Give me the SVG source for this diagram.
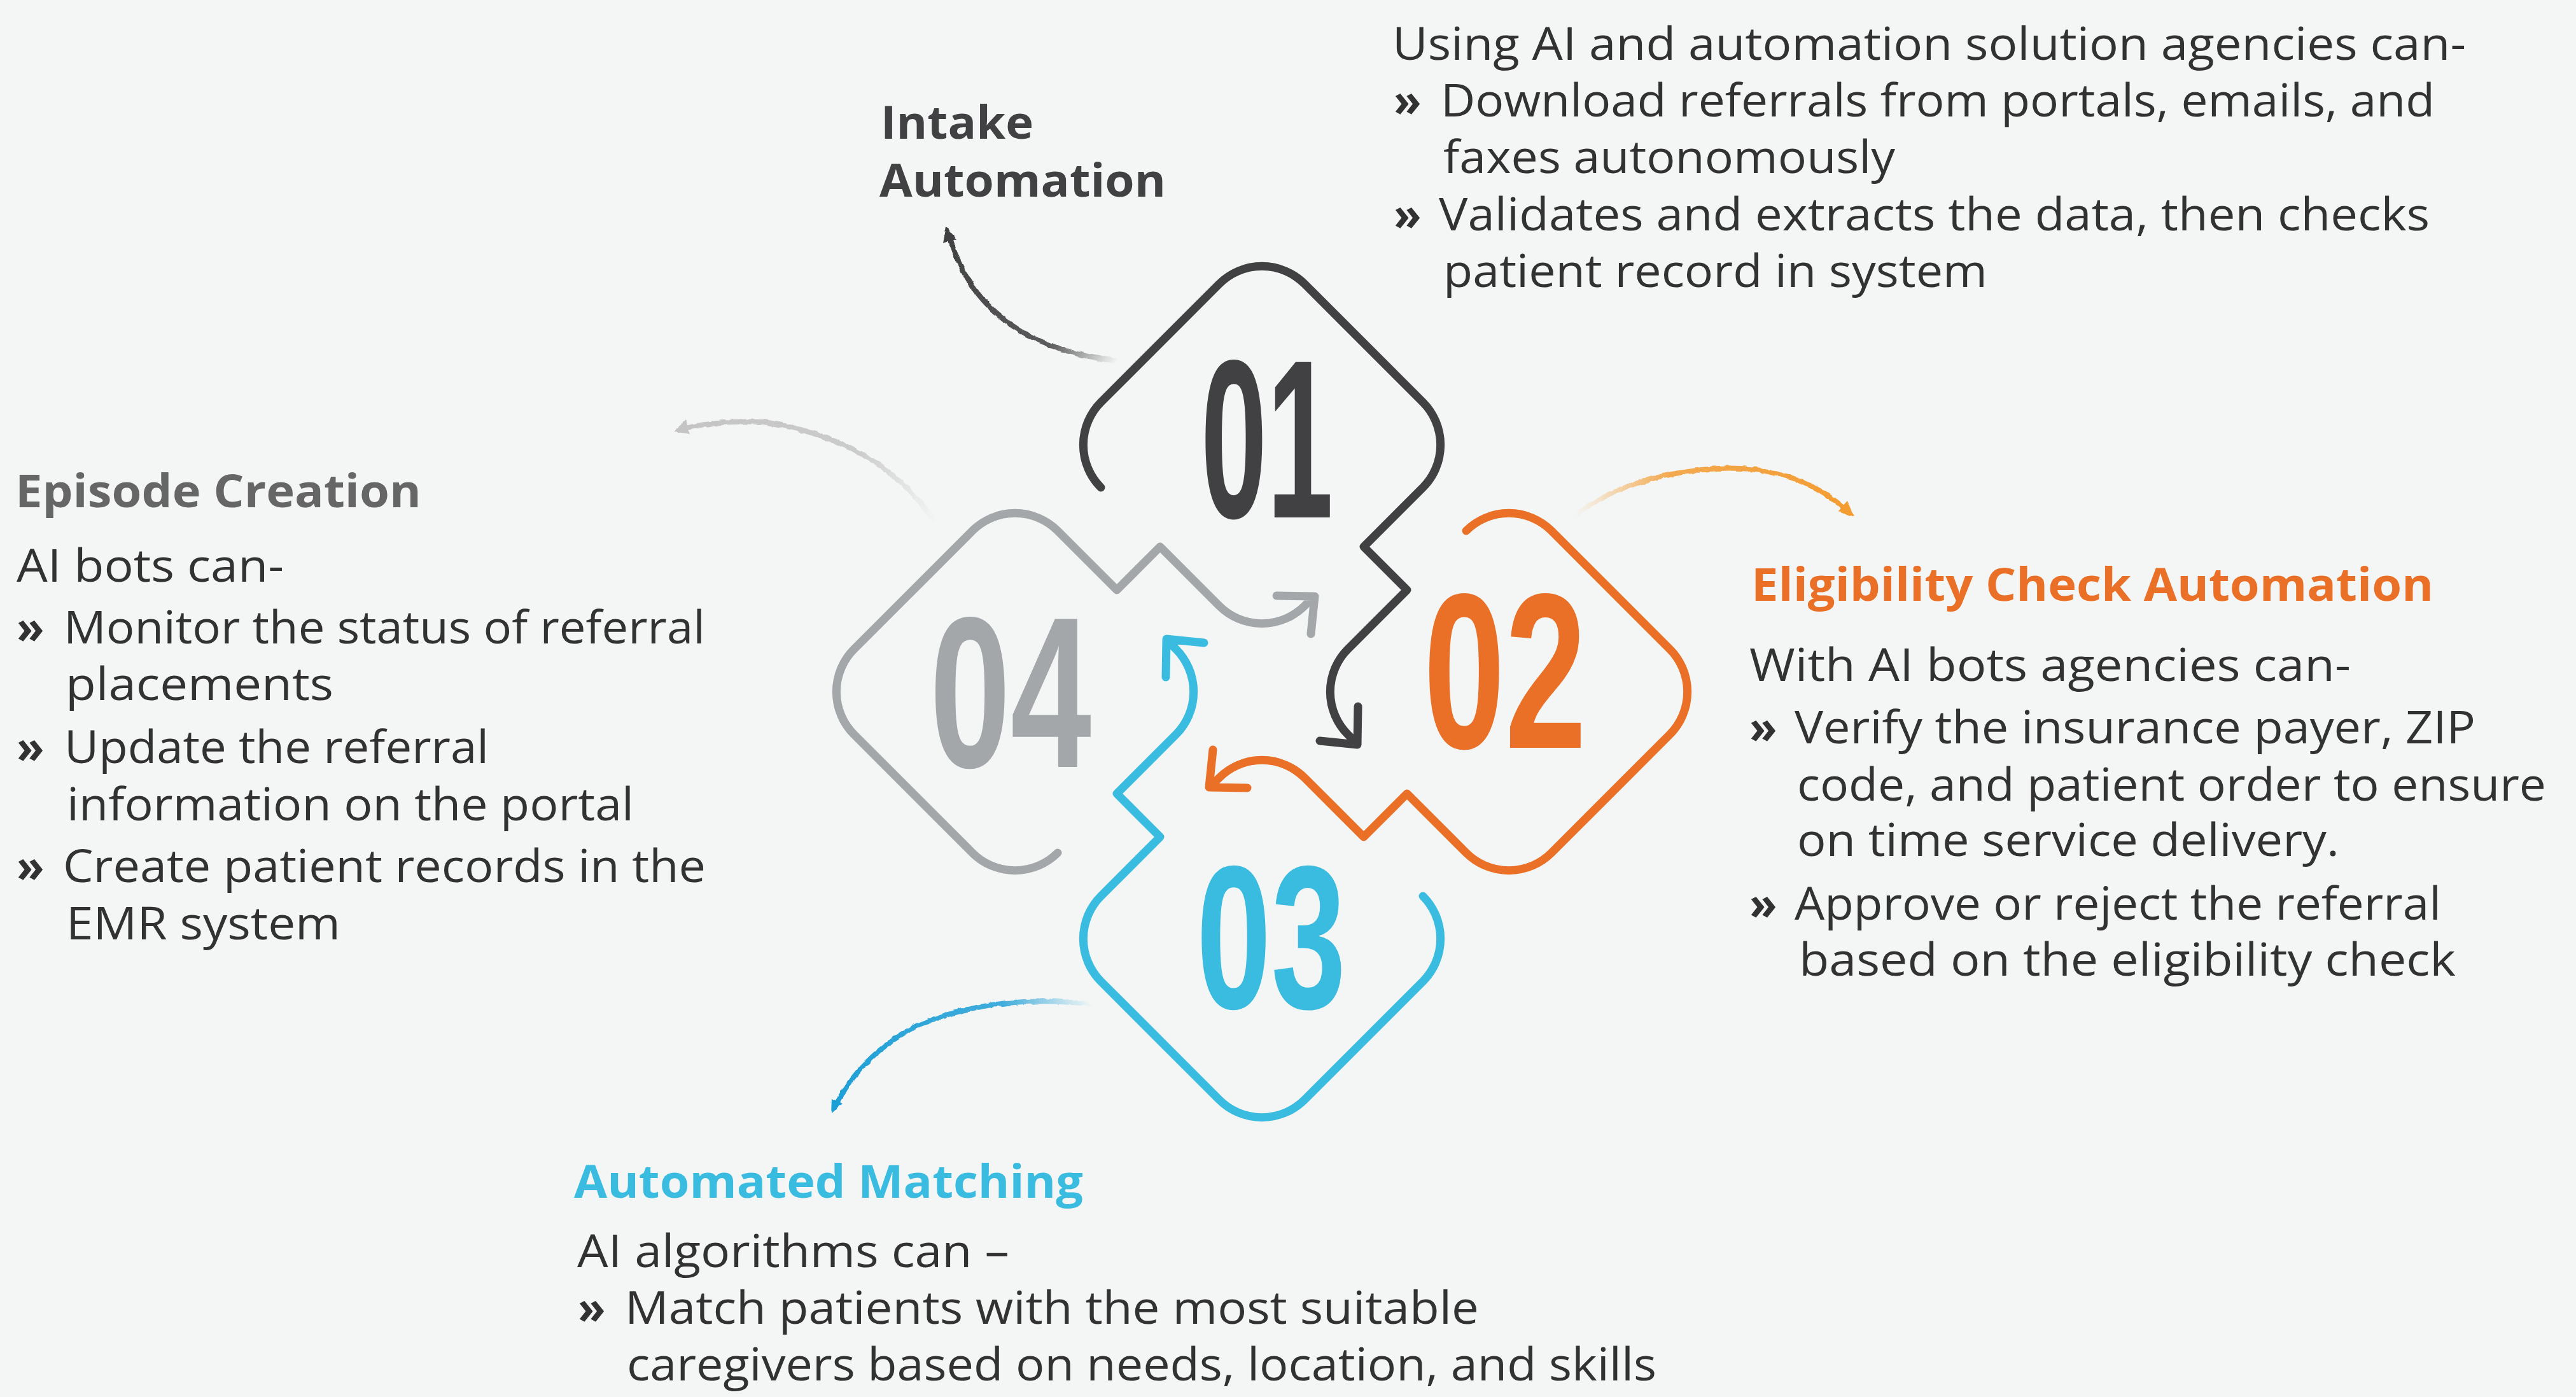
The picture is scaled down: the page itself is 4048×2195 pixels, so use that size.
<svg xmlns="http://www.w3.org/2000/svg" width="4048" height="2195" viewBox="0 0 4048 2195">
<defs>
<style>
.body{font-family:"Open Sans","Liberation Sans",sans-serif;font-size:71px;fill:#323232;}
.bul{font-family:"Open Sans","Liberation Sans",sans-serif;font-size:71px;font-weight:700;fill:#323232;}
.head{font-family:"Open Sans","Liberation Sans",sans-serif;font-size:72px;font-weight:700;}
.num{font-family:"Liberation Sans","DejaVu Sans",sans-serif;font-weight:700;}
.loop{fill:none;stroke-width:13;stroke-linecap:round;stroke-linejoin:round;}
.brush{fill:none;stroke-width:8;stroke-linecap:round;}
</style>
<path id="loop" d="M -253 -321 A 95 95 0 0 1 -253 -455 L -67 -641 A 95 95 0 0 1 67 -641 L 253 -455 A 95 95 0 0 1 253 -321 L 160 -228 L 228 -160 L 135 -67 A 95 95 0 0 0 135 67 L 150 82 M 151 23 L 150 83 L 91 77"/>
<linearGradient id="gDark" gradientUnits="userSpaceOnUse" x1="1755" y1="568" x2="1492" y2="372">
<stop offset="0" stop-color="#414042" stop-opacity="0"/><stop offset="0.3" stop-color="#414042" stop-opacity="0.85"/><stop offset="1" stop-color="#414042"/>
</linearGradient>
<linearGradient id="gGray" gradientUnits="userSpaceOnUse" x1="1470" y1="820" x2="1066" y2="676">
<stop offset="0" stop-color="#c4c4c4" stop-opacity="0"/><stop offset="0.35" stop-color="#c4c4c4" stop-opacity="0.85"/><stop offset="1" stop-color="#c4c4c4"/>
</linearGradient>
<linearGradient id="gOrange" gradientUnits="userSpaceOnUse" x1="2476" y1="809" x2="2900" y2="800">
<stop offset="0" stop-color="#F39C32" stop-opacity="0"/><stop offset="0.35" stop-color="#F39C32" stop-opacity="0.85"/><stop offset="1" stop-color="#F39C32"/>
</linearGradient>
<linearGradient id="gBlue" gradientUnits="userSpaceOnUse" x1="1716" y1="1578" x2="1312" y2="1740">
<stop offset="0" stop-color="#1E9FD6" stop-opacity="0"/><stop offset="0.3" stop-color="#1E9FD6" stop-opacity="0.85"/><stop offset="1" stop-color="#1E9FD6"/>
</linearGradient>
<filter id="rough" x="-10%" y="-10%" width="120%" height="120%">
<feTurbulence type="fractalNoise" baseFrequency="0.09" numOctaves="2" seed="3"/>
<feDisplacementMap in="SourceGraphic" scale="5" xChannelSelector="R" yChannelSelector="G"/>
</filter>
</defs>
<rect width="4048" height="2195" fill="#F4F6F5"/>

<g id="connectors">
<g id="brush-intake" filter="url(#rough)">
<path class="brush" stroke="url(#gDark)" d="M1752,567 Q1540,540 1492,372"/>
<polygon fill="#414042" points="1486,356 1481,382 1504,376"/>
</g>
<g id="brush-episode" filter="url(#rough)">
<path class="brush" stroke="url(#gGray)" stroke-width="7" d="M1467,817 Q1380,690 1200,663 Q1120,660 1066,676"/>
<polygon fill="#c4c4c4" points="1058,678 1084,682 1078,660"/>
</g>
<g id="brush-eligibility" filter="url(#rough)">
<path class="brush" stroke="url(#gOrange)" stroke-width="7" d="M2476,809 Q2560,745 2700,736 Q2820,730 2900,800"/>
<polygon fill="#F39C32" points="2914,812 2889,803 2903,788"/>
</g>
<g id="brush-matching" filter="url(#rough)">
<path class="brush" stroke="url(#gBlue)" stroke-width="7" d="M1716,1578 Q1560,1560 1440,1612 Q1350,1660 1312,1740"/>
<polygon fill="#1E9FD6" points="1306,1750 1324,1734 1307,1726"/>
</g>
</g>

<g id="node-01">
<use href="#loop" class="loop" stroke="#414042" transform="translate(1983 1087)"/>
<text class="num" x="1887" y="813" font-size="355" textLength="208" lengthAdjust="spacingAndGlyphs" fill="#414042">01</text>
</g>
<g id="node-02">
<use href="#loop" class="loop" stroke="#E97026" transform="translate(1983 1087) rotate(90)"/>
<text class="num" x="2237" y="1175" font-size="348" textLength="256" lengthAdjust="spacingAndGlyphs" fill="#E97026">02</text>
</g>
<g id="node-03">
<use href="#loop" class="loop" stroke="#3ABCE0" transform="translate(1983 1087) rotate(180)"/>
<text class="num" x="1880" y="1584" font-size="321" textLength="235" lengthAdjust="spacingAndGlyphs" fill="#3ABCE0">03</text>
</g>
<g id="node-04">
<use href="#loop" class="loop" stroke="#A4A7AA" transform="translate(1983 1087) rotate(270)"/>
<text class="num" x="1461" y="1205" font-size="338" textLength="254" lengthAdjust="spacingAndGlyphs" fill="#A4A7AA">04</text>
</g>

<g id="label-intake">
<text class="head" fill="#414042" x="1384" y="218" textLength="240" lengthAdjust="spacingAndGlyphs">Intake</text>
<text class="head" fill="#414042" x="1382" y="309" textLength="450" lengthAdjust="spacingAndGlyphs">Automation</text>
</g>
<g id="text-intake">
<text class="body" x="2188" y="94" textLength="1687" lengthAdjust="spacingAndGlyphs">Using AI and automation solution agencies can-</text>
<text class="bul" x="2190" y="183">»</text>
<text class="body" x="2264" y="183" textLength="1562" lengthAdjust="spacingAndGlyphs">Download referrals from portals, emails, and</text>
<text class="body" x="2268" y="272" textLength="710" lengthAdjust="spacingAndGlyphs">faxes autonomously</text>
<text class="bul" x="2190" y="362">»</text>
<text class="body" x="2261" y="362" textLength="1557" lengthAdjust="spacingAndGlyphs">Validates and extracts the data, then checks</text>
<text class="body" x="2268" y="451" textLength="855" lengthAdjust="spacingAndGlyphs">patient record in system</text>
</g>

<g id="label-episode">
<text class="head" fill="#666666" x="24" y="797" textLength="638" lengthAdjust="spacingAndGlyphs">Episode Creation</text>
<text class="body" x="26" y="914" textLength="420" lengthAdjust="spacingAndGlyphs">AI bots can-</text>
<text class="bul" x="26" y="1011">»</text>
<text class="body" x="100" y="1011" textLength="1008" lengthAdjust="spacingAndGlyphs">Monitor the status of referral</text>
<text class="body" x="103" y="1100" textLength="421" lengthAdjust="spacingAndGlyphs">placements</text>
<text class="bul" x="26" y="1199">»</text>
<text class="body" x="101" y="1199" textLength="667" lengthAdjust="spacingAndGlyphs">Update the referral</text>
<text class="body" x="105" y="1289" textLength="891" lengthAdjust="spacingAndGlyphs">information on the portal</text>
<text class="bul" x="26" y="1386">»</text>
<text class="body" x="99" y="1386" textLength="1010" lengthAdjust="spacingAndGlyphs">Create patient records in the</text>
<text class="body" x="104" y="1476" textLength="431" lengthAdjust="spacingAndGlyphs">EMR system</text>
</g>

<g id="label-eligibility">
<text class="head" fill="#E97026" x="2752" y="944" textLength="1072" lengthAdjust="spacingAndGlyphs">Eligibility Check Automation</text>
<text class="body" x="2749" y="1070" textLength="945" lengthAdjust="spacingAndGlyphs">With AI bots agencies can-</text>
<text class="bul" x="2749" y="1168">»</text>
<text class="body" x="2820" y="1168" textLength="1070" lengthAdjust="spacingAndGlyphs">Verify the insurance payer, ZIP</text>
<text class="body" x="2824" y="1258" textLength="1177" lengthAdjust="spacingAndGlyphs">code, and patient order to ensure</text>
<text class="body" x="2824" y="1345" textLength="852" lengthAdjust="spacingAndGlyphs">on time service delivery.</text>
<text class="bul" x="2749" y="1445">»</text>
<text class="body" x="2820" y="1445" textLength="1016" lengthAdjust="spacingAndGlyphs">Approve or reject the referral</text>
<text class="body" x="2827" y="1533" textLength="1032" lengthAdjust="spacingAndGlyphs">based on the eligibility check</text>
</g>

<g id="label-matching">
<text class="head" fill="#3ABCE0" x="902" y="1882" textLength="800" lengthAdjust="spacingAndGlyphs">Automated Matching</text>
<text class="body" x="907" y="1991" textLength="679" lengthAdjust="spacingAndGlyphs">AI algorithms can –</text>
<text class="bul" x="908" y="2080">»</text>
<text class="body" x="982" y="2080" textLength="1342" lengthAdjust="spacingAndGlyphs">Match patients with the most suitable</text>
<text class="body" x="985" y="2169" textLength="1618" lengthAdjust="spacingAndGlyphs">caregivers based on needs, location, and skills</text>
</g>
</svg>
